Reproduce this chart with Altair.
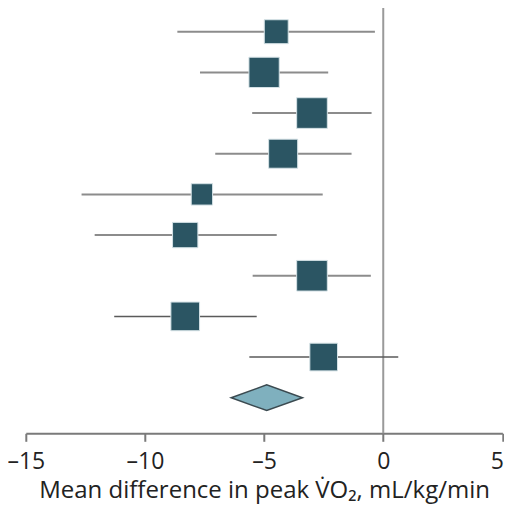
import altair as alt
import pandas as pd

# Study rows (top to bottom): mean difference, 95% CI, weight (%)
row = [0, 1, 2, 3, 4, 5, 6, 7, 8]
est = [-4.49, -5.00, -2.99, -4.20, -7.61, -8.31, -2.99, -8.31, -2.50]
lo = [-8.64, -7.69, -5.50, -7.05, -12.66, -12.11, -5.48, -11.29, -5.62]
hi = [-0.35, -2.31, -0.49, -1.33, -2.54, -4.47, -0.52, -5.31, 0.63]
weight = [8.3, 13.3, 13.6, 12.2, 6.6, 9.3, 13.6, 11.9, 11.1]

# Pooled estimate (diamond)
pooled_row = 9
pooled_est = -4.89
pooled_lo = -6.38
pooled_hi = -3.39

x_ticks = [-15, -10, -5, 0, 5]

W, H = 476.6, 425.3
HALF = 0.316  # diamond half-height in row units

studies = pd.DataFrame({"row": row, "est": est, "lo": lo, "hi": hi, "weight": weight})
diamond = pd.DataFrame({
    "x": [pooled_lo, pooled_est, pooled_hi],
    "y": [pooled_row, pooled_row - HALF, pooled_row],
    "y2": [pooled_row, pooled_row + HALF, pooled_row],
})

FONT = "Open Sans"
xscale = alt.Scale(domain=[-15, 5], nice=False, zero=False)
yscale = alt.Scale(domain=[-0.583, 9.875], reverse=True, nice=False, zero=False)

TITLE = "Mean difference in peak V̇O₂, mL/kg/min"
xaxis = alt.Axis(
    values=x_ticks, title=TITLE,
    labelExpr="replace(datum.label, '\u2212', '\u2013')",
    labelAlign=alt.condition("datum.value == 5", alt.value("right"), alt.value("center")),
    labelOffset=alt.condition("datum.value == 5", alt.value(1), alt.value(0)),
)

zero = alt.Chart(pd.DataFrame({"x": [0]})).mark_rule(color="#9a9a9a", strokeWidth=2).encode(
    x=alt.X("x:Q", scale=xscale, axis=xaxis),
    y=alt.value(-2),
    y2=alt.value(H),
)

ci = alt.Chart(studies).mark_rule().encode(
    x=alt.X("lo:Q", scale=xscale, axis=xaxis),
    x2="hi:Q",
    y=alt.Y("row:Q", scale=yscale, axis=None),
    color=alt.condition("datum.row >= 7", alt.value("#5a5a5a"), alt.value("#8c8c8c")),
    strokeWidth=alt.condition("datum.row >= 7", alt.value(1.5), alt.value(2)),
)

squares = alt.Chart(studies).mark_square(opacity=1, fill="#2b5563", stroke="#d5e2e6",
                                         strokeWidth=1).encode(
    x=alt.X("est:Q", scale=xscale, axis=xaxis),
    y=alt.Y("row:Q", scale=yscale, axis=None),
    size=alt.Size("weight:Q", scale=alt.Scale(domain=[0, 100], range=[0, 6904]), legend=None),
)

dia = alt.Chart(diamond).mark_area(fill="#7fb0be", stroke="#3b4a50", strokeWidth=1.5,
                                   opacity=1).encode(
    x=alt.X("x:Q", scale=xscale, axis=xaxis),
    y=alt.Y("y:Q", scale=yscale, axis=None),
    y2="y2:Q",
)

chart = alt.layer(zero, ci, squares, dia).properties(
    width=W, height=H,
    autosize=alt.AutoSizeParams(type="none"),
    padding={"left": 17.8, "top": 0, "right": 1.5, "bottom": 73},
).configure_view(stroke=None).configure_axisX(
    grid=False, tickSize=8, tickColor="#7a7a7a", domainColor="#7a7a7a",
    domainWidth=2, tickWidth=2, labelFontSize=23, labelColor="#222222",
    labelFont=FONT, titleFont=FONT, titleFontSize=24, titleFontWeight="normal",
    titleColor="#222222", labelPadding=9, titlePadding=5,
)

chart.save("out.html", embed_options={"renderer": "svg", "actions": False})
